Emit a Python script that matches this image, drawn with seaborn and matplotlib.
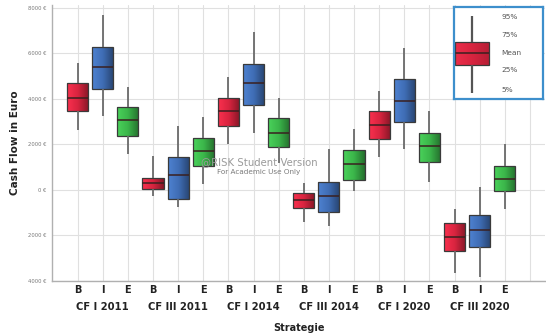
import numpy as np
import pandas as pd
import matplotlib
matplotlib.use("Agg")
import matplotlib.pyplot as plt
import seaborn as sns
from matplotlib.colors import LinearSegmentedColormap, to_rgb

# ---- data ----
groups = ["CF I 2011", "CF III 2011", "CF I 2014", "CF III 2014", "CF I 2020", "CF III 2020"]
strategies = ["B", "I", "E"]
p95 = [5580, 7690, 4530, 1500, 2810, 3210, 4970, 6950, 4040, 310, 1800, 2680, 4350, 6240, 3470, -840, 130, 2020]
p75 = [4700, 6290, 3650, 530, 1450, 2290, 4040, 5540, 3170, -130, 350, 1760, 3470, 4880, 2500, -1450, -1100, 1060]
mean = [4040, 5410, 3080, 310, 660, 1710, 3470, 4700, 2500, -440, -260, 1140, 2860, 3910, 1930, -2070, -1760, 480]
p25 = [3470, 4440, 2370, 40, -400, 1060, 2810, 3740, 1890, -790, -970, 440, 2240, 2990, 1230, -2680, -2500, -40]
p5 = [2640, 3250, 1580, -260, -750, 260, 2020, 2510, 1190, -1410, -1580, -40, 1450, 1800, 350, -3650, -3820, -840]
yticks = [-4000, -2000, 0, 2000, 4000, 6000, 8000]
ytick_labels = ["4000 €", "2000 €", "0 €", "2000 €", "4000 €", "6000 €", "8000 €"]
legend_labels = ["95%", "75%", "Mean", "25%", "5%"]
legend_stats = [0.07, 0.37, 0.50, 0.62, 0.90]

colors = {"B": "#d8243f", "I": "#3f6db4", "E": "#3bb54a"}

rows = []
for gi, g in enumerate(groups):
    for si, s in enumerate(strategies):
        k = gi * 3 + si
        for v in (p5[k], p25[k], mean[k], p75[k], p95[k]):
            rows.append(dict(cat=f"{g} {s}", strat=s, value=v))
df = pd.DataFrame(rows)
order = [f"{g} {s}" for g in groups for s in strategies]

sns.set_style("whitegrid")
plt.rcParams["font.family"] = ["DejaVu Sans"]

fig = plt.figure(figsize=(5.46, 3.35), dpi=100)
ax = fig.add_axes([52 / 546, 1 - 281 / 335, (545 - 52) / 546, (281 - 5) / 335])

box_kw = dict(
    whis=(0, 100), width=0.84, linewidth=0.9, linecolor="#3a3a3a", saturation=1,
    showfliers=False, dodge=False, legend=False,
    whiskerprops=dict(color="#6a6a6a", linewidth=1.3),
    capprops=dict(visible=False),
    medianprops=dict(color="#3a2020", linewidth=1.1),
)
sns.boxplot(data=df, x="cat", y="value", hue="strat", order=order, hue_order=strategies,
            palette=colors, ax=ax, **box_kw)


def gradient_fill(axis, strength=(1.12, 0.62)):
    for patch in list(axis.patches):
        fc = patch.get_facecolor()
        verts = patch.get_path().vertices
        verts = patch.get_transform().transform(verts)
        verts = axis.transData.inverted().transform(verts)
        x0, x1 = verts[:, 0].min(), verts[:, 0].max()
        y0, y1 = verts[:, 1].min(), verts[:, 1].max()
        base = np.array(to_rgb(fc))
        light = np.clip(base * strength[0] + 0.03, 0, 1)
        dark = np.clip(base * strength[1], 0, 1)
        cmap = LinearSegmentedColormap.from_list("g", [light, base, dark])
        grad = np.linspace(0, 1, 64).reshape(1, -1)
        im = axis.imshow(grad, extent=[x0, x1, y0, y1], aspect="auto", cmap=cmap,
                         zorder=patch.get_zorder() - 0.01, interpolation="bilinear")
        im.set_clip_path(patch)
        patch.set_facecolor("none")


gradient_fill(ax)

ax.set_xlim(-1.02, 18.6)
ax.set_ylim(-4000, 8130)
ax.set_xticks(range(19))
ax.set_xticklabels(strategies * len(groups) + [""], fontsize=7, fontweight="bold", color="#222222")
ax.set_yticks(yticks)
ax.set_yticklabels(ytick_labels, fontsize=3.8, color="#777777")
ax.tick_params(axis="x", length=2, color="#aaaaaa", pad=1.2)
ax.tick_params(axis="y", length=2, color="#aaaaaa", pad=2)
ax.grid(True, color="#e0e0e0", linewidth=0.8)
ax.set_axisbelow(True)
for side in ["top", "right"]:
    ax.spines[side].set_visible(False)
for side in ["left", "bottom"]:
    ax.spines[side].set_color("#b0b0b0")
    ax.spines[side].set_linewidth(1.0)

ax.set_ylabel("Cash Flow in Euro", fontsize=7.5, fontweight="bold", color="#222222", labelpad=6)
ax.set_xlabel("Strategie", fontsize=7, fontweight="bold", color="#222222", labelpad=20)

for gi, g in enumerate(groups):
    ax.text(gi * 3 + 1, -0.094, g, transform=ax.get_xaxis_transform(), ha="center", va="center",
            fontsize=7.2, fontweight="bold", color="#222222")

ax.text(0.42, 0.43, "@RISK Student Version", transform=ax.transAxes, ha="center", va="center",
        fontsize=7.3, color="#9a9a9a")
ax.text(0.42, 0.395, "For Academic Use Only", transform=ax.transAxes, ha="center", va="center",
        fontsize=5.2, color="#7a7a7a")

# ---- legend panel ----
lax = fig.add_axes([454 / 546, 1 - 99 / 335, 89 / 546, 92 / 335])
lax.set_facecolor("white")
ldf = pd.DataFrame(dict(cat=["k"] * 5, value=legend_stats))
sns.boxplot(data=ldf, x="cat", y="value", color=colors["B"], ax=lax,
            whis=(0, 100), width=0.8, linewidth=0.9, linecolor="#3a3a3a", saturation=1,
            showfliers=False,
            whiskerprops=dict(color="#555555", linewidth=1.6),
            capprops=dict(visible=False),
            medianprops=dict(color="#3a2020", linewidth=1.1))
gradient_fill(lax, strength=(1.05, 0.85))
lax.set_xlim(-0.42, 1.68)
lax.set_ylim(0, 1)
lax.set_xticks([])
lax.set_yticks([])
lax.set_xlabel("")
lax.set_ylabel("")
lax.grid(False)
for s in lax.spines.values():
    s.set_visible(True)
    s.set_color("#3d8fcc")
    s.set_linewidth(1.6)
for lab, yy in zip(legend_labels, [0.89, 0.70, 0.50, 0.31, 0.10]):
    lax.text(0.53, yy, lab, transform=lax.transAxes, ha="left", va="center", fontsize=5.3, color="#555555")

fig.savefig("out.png", dpi=100)
